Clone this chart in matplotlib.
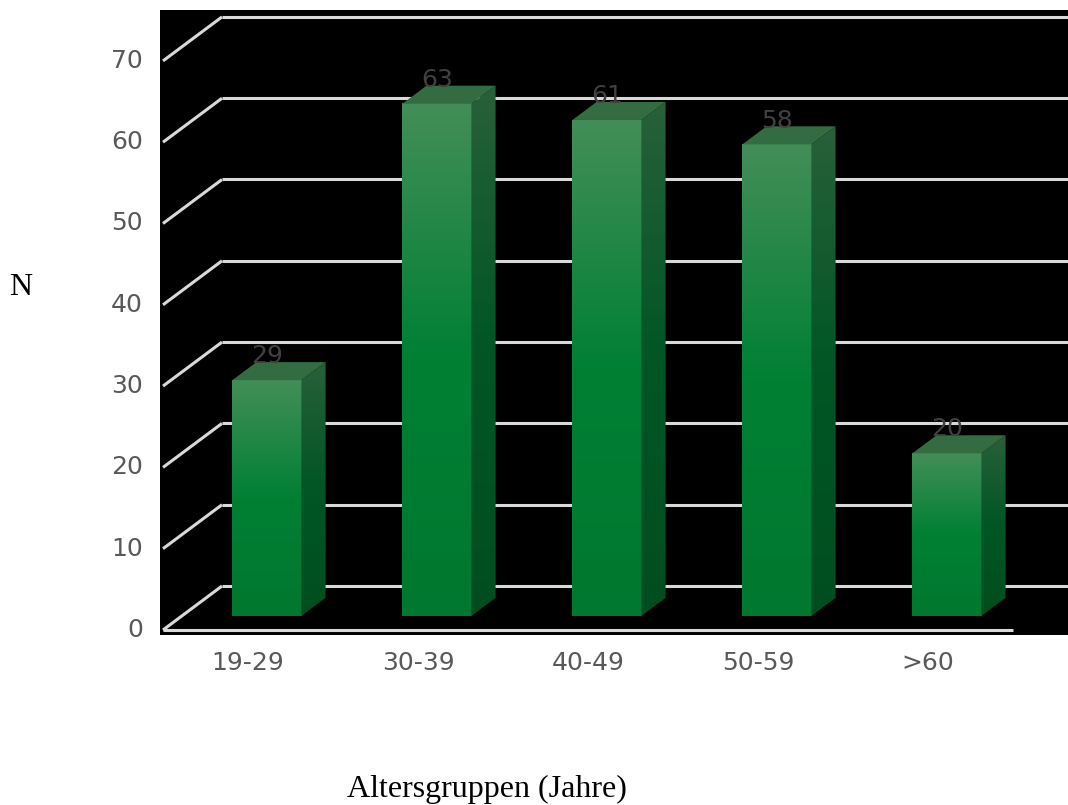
import numpy as np
import matplotlib
matplotlib.use("Agg")
import matplotlib.pyplot as plt
from matplotlib.patches import Polygon

# Data
categories = ["19-29", "30-39", "40-49", "50-59", ">60"]
counts = [29, 63, 61, 58, 20]
y_ticks = [0, 10, 20, 30, 40, 50, 60, 70]

W, H = 1068, 805
fig = plt.figure(figsize=(W / 100, H / 100), dpi=100)
fig.patch.set_facecolor("white")

# Dark plotting area (pixel box: left 160, top 10, right 1068, bottom 635)
ax = fig.add_axes([160 / W, 170 / H, 908 / W, 625 / H])
ax.set_facecolor("black")
for s in ax.spines.values():
    s.set_visible(False)
ax.set_xticks([])
ax.set_yticks([])

PX_X = 170.0   # pixels per category
PX_Y = 8.13    # pixels per count unit
xmin = -0.5 - 62 / PX_X
ymin = -(635 - 586) / PX_Y
ax.set_xlim(xmin, xmin + 908 / PX_X)
ax.set_ylim(ymin, ymin + 625 / PX_Y)

# Oblique depth vector (back wall -> front edge) in data units
DX = -59 / PX_X
DY = -44 / PX_Y
D_FRONT, D_BACK = 0.68, 0.27   # depth fractions of bar front and back faces
HALF_W = 0.203

grid_kw = dict(color="#d9d9d9", lw=2.2, solid_capstyle="butt", zorder=1)
n = len(categories)
for v in y_ticks:
    ax.plot([-0.5, n - 0.5], [v, v], **grid_kw)
    ax.plot([-0.5, -0.5 + DX], [v, v + DY], **grid_kw)
    ax.text(-0.5 + DX - 20 / PX_X, v + DY, str(v), ha="right", va="center",
            color="#595959", fontsize=18, clip_on=False)
ax.plot([-0.5 + DX, n - 0.5 + DX], [DY, DY], **grid_kw)


def gradient_image(stops, n_px=256):
    t = np.linspace(0, 1, n_px)
    pos = [s[0] for s in stops]
    cols = np.array([s[1] for s in stops], dtype=float) / 255.0
    img = np.stack([np.interp(t, pos, cols[:, k]) for k in range(3)], axis=-1)
    return img[:, None, :]


front_grad = gradient_image([(0.0, (67, 142, 88)), (0.5, (0, 128, 52)), (1.0, (0, 120, 47))])
side_grad = gradient_image([(0.0, (40, 96, 58)), (0.5, (0, 86, 36)), (1.0, (0, 78, 31))])
TOP_COLOR = (51 / 255, 108 / 255, 65 / 255)

for i, (cat, v) in enumerate(zip(categories, counts)):
    cx_f = i + D_FRONT * DX
    cx_b = i + D_BACK * DX
    yb_f, yt_f = D_FRONT * DY, v + D_FRONT * DY
    yb_b, yt_b = D_BACK * DY, v + D_BACK * DY
    xl_f, xr_f = cx_f - HALF_W, cx_f + HALF_W
    xl_b, xr_b = cx_b - HALF_W, cx_b + HALF_W

    # front face
    ax.imshow(front_grad, extent=[xl_f, xr_f, yb_f, yt_f], origin="upper",
              aspect="auto", zorder=3, interpolation="bilinear")

    # right side face
    side = Polygon([(xr_f, yb_f), (xr_b, yb_b), (xr_b, yt_b), (xr_f, yt_f)],
                   closed=True, facecolor="none", edgecolor="none", zorder=3)
    ax.add_patch(side)
    im = ax.imshow(side_grad, extent=[xr_f, xr_b, yb_f, yt_b], origin="upper",
                   aspect="auto", zorder=3, interpolation="bilinear")
    im.set_clip_path(side)

    # top face
    ax.add_patch(Polygon([(xl_f, yt_f), (xr_f, yt_f), (xr_b, yt_b), (xl_b, yt_b)],
                         closed=True, facecolor=TOP_COLOR, edgecolor="none", zorder=3))

    # value label
    ax.text(cx_f, yt_b - 0.15, str(v), ha="center", va="baseline",
            color="#404040", fontsize=18, zorder=4)

    # category label
    ax.text(i + DX, -(662.5 - 586) / PX_Y, cat, ha="center", va="center",
            color="#595959", fontsize=18, clip_on=False)

ax.set_xlim(xmin, xmin + 908 / PX_X)
ax.set_ylim(ymin, ymin + 625 / PX_Y)

fig.text(21 / W, 1 - 287.5 / H, "N", family="Liberation Serif", fontsize=23,
         ha="center", va="center", color="black")
fig.text(486.5 / W, 1 - 797 / H, "Altersgruppen (Jahre)", family="Liberation Serif",
         fontsize=23, ha="center", va="baseline", color="black")

fig.savefig("out.png", dpi=100, facecolor="white")
